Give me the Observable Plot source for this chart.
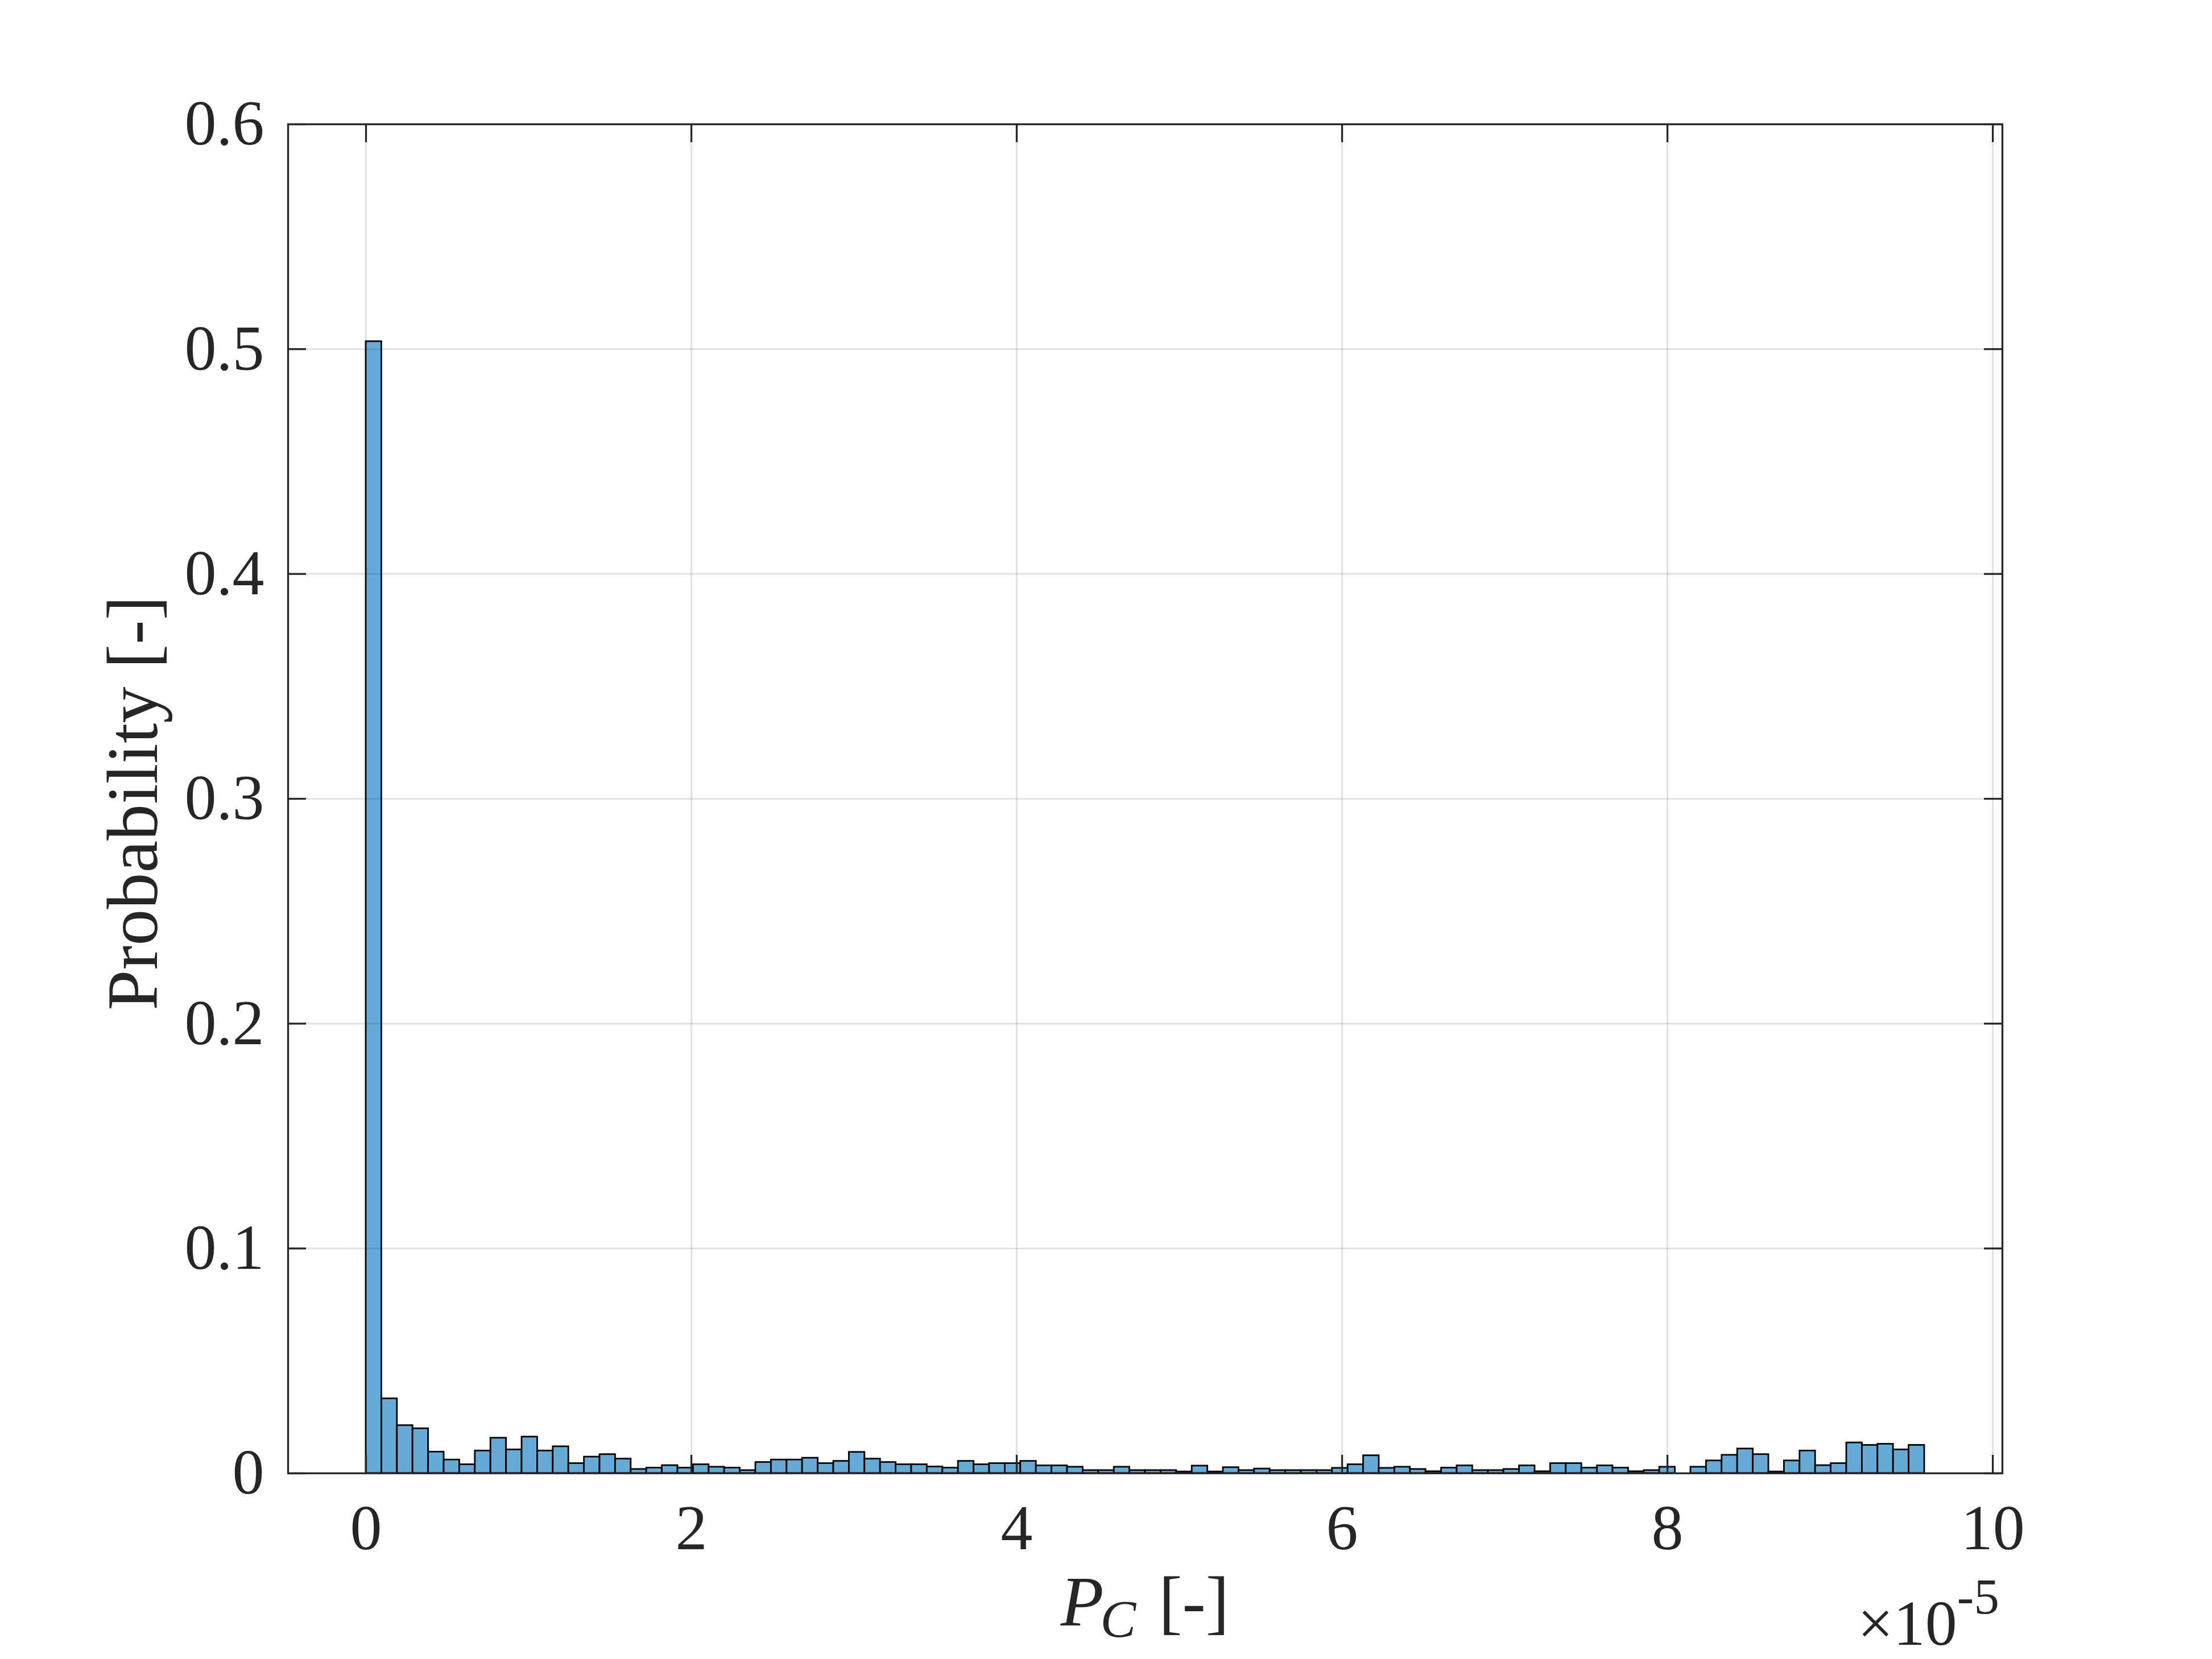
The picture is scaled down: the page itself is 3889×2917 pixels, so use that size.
<!DOCTYPE html>
<html><head><meta charset="utf-8">
<script src="https://cdn.jsdelivr.net/npm/d3@7"></script>
<script src="https://cdn.jsdelivr.net/npm/@observablehq/plot@0.6"></script>
<style>html,body{margin:0;padding:0;background:#fff;} svg{display:block;}</style>
</head><body><div id="chart"></div>
<script>
// Histogram of P_C (x in units of 1e-5), probability normalization, 100 bins
const probability = [
  0.5034, 0.0332, 0.0213, 0.0199, 0.0095, 0.0060, 0.0039, 0.0100, 0.0157, 0.0105,
  0.0162, 0.0100, 0.0119, 0.0044, 0.0073, 0.0084, 0.0064, 0.0018, 0.0024, 0.0035,
  0.0024, 0.0039, 0.0028, 0.0024, 0.0013, 0.0049, 0.0060, 0.0060, 0.0068, 0.0044,
  0.0054, 0.0094, 0.0064, 0.0049, 0.0039, 0.0039, 0.0029, 0.0024, 0.0054, 0.0039,
  0.0044, 0.0044, 0.0054, 0.0034, 0.0034, 0.0028, 0.0013, 0.0013, 0.0028, 0.0013,
  0.0013, 0.0013, 0.0007, 0.0033, 0.0007, 0.0026, 0.0013, 0.0020, 0.0013, 0.0013,
  0.0013, 0.0013, 0.0023, 0.0039, 0.0079, 0.0023, 0.0028, 0.0018, 0.0008, 0.0024,
  0.0034, 0.0013, 0.0013, 0.0018, 0.0034, 0.0008, 0.0044, 0.0044, 0.0024, 0.0034,
  0.0024, 0.0008, 0.0013, 0.0028, 0.0000, 0.0028, 0.0056, 0.0081, 0.0109, 0.0084,
  0.0007, 0.0056, 0.0100, 0.0035, 0.0044, 0.0136, 0.0125, 0.0130, 0.0105, 0.0125
];
const binStart = 0;        // x 1e-5
const binWidth = 0.0958;   // x 1e-5
const xTicks = [0, 2, 4, 6, 8, 10];
const yTicks = [0, 0.1, 0.2, 0.3, 0.4, 0.5, 0.6];
const xDomain = [-0.479, 10.059];
const yDomain = [0, 0.6];
const yLabel = "Probability [-]";
const xLabelMain = "P";
const xLabelSub = "C";
const xLabelUnit = "[-]";
const exponentBase = "\u00d710";
const exponentPower = "-5";

const W = 3889, H = 2917;
const m = {left: 506, right: 369, top: 218, bottom: 327};
const frameW = W - m.left - m.right;
const frameH = H - m.top - m.bottom;
const tickLen = 32;
const ink = "#262626";
const font = "'Liberation Serif', 'Times New Roman', Times, serif";

const bins = probability.map((p, i) => ({
  x1: binStart + i * binWidth,
  x2: binStart + (i + 1) * binWidth,
  p
}));

const chart = Plot.plot({
  width: W, height: H,
  marginLeft: m.left, marginRight: m.right, marginTop: m.top, marginBottom: m.bottom,
  style: {fontFamily: font, fontSize: "112px", color: ink, background: "#fff"},
  x: {domain: xDomain},
  y: {domain: yDomain},
  marks: [
    Plot.rectY(bins, {x1: "x1", x2: "x2", y: "p", fill: "#66AAD7", stroke: "#000", strokeWidth: 2.8}),
    Plot.gridX(xTicks, {stroke: ink, strokeOpacity: 0.15, strokeWidth: 2.7}),
    Plot.gridY(yTicks, {stroke: ink, strokeOpacity: 0.15, strokeWidth: 2.7}),
    Plot.ruleX(xTicks, {stroke: ink, strokeWidth: 3.3, insetTop: frameH - tickLen}),
    Plot.ruleX(xTicks, {stroke: ink, strokeWidth: 3.3, insetBottom: frameH - tickLen}),
    Plot.ruleY(yTicks, {stroke: ink, strokeWidth: 3.3, insetRight: frameW - tickLen}),
    Plot.ruleY(yTicks, {stroke: ink, strokeWidth: 3.3, insetLeft: frameW - tickLen}),
    Plot.frame({stroke: ink, strokeWidth: 3.3}),
    Plot.axisX(xTicks, {tickSize: 0, tickPadding: 54, label: null, fontSize: 112, tickFormat: d => String(d)}),
    Plot.axisY(yTicks, {tickSize: 0, tickPadding: 42, label: null, fontSize: 112, tickFormat: d => d === 0 ? "0" : d.toFixed(1)})
  ]
});

document.getElementById("chart").appendChild(chart);

const svg = d3.select(chart);
// y label
svg.append("text")
  .attr("transform", `translate(276,${m.top + frameH / 2 + 8}) rotate(-90)`)
  .attr("text-anchor", "middle")
  .attr("font-family", font).attr("font-size", 128).attr("fill", ink)
  .text(yLabel);

// x label  P_C [-]
const xl = svg.append("text")
  .attr("x", m.left + frameW / 2).attr("y", H - m.bottom + 268)
  .attr("text-anchor", "middle")
  .attr("font-family", font).attr("font-size", 124).attr("fill", ink);
xl.append("tspan").attr("font-style", "italic").text(xLabelMain);
xl.append("tspan").attr("font-style", "italic").attr("font-size", 94).attr("dy", 20).attr("dx", -6).text(xLabelSub);
xl.append("tspan").attr("dy", -20).attr("dx", 40).text(xLabelUnit);

// exponent  x10^-5
const ex = svg.append("text")
  .attr("x", m.left + frameW - 5).attr("y", H - m.bottom + 302)
  .attr("text-anchor", "end")
  .attr("font-family", font).attr("font-size", 112).attr("fill", ink);
ex.append("tspan").text(exponentBase);
ex.append("tspan").attr("font-size", 89).attr("dy", -55).text(exponentPower);
</script>
</body></html>
